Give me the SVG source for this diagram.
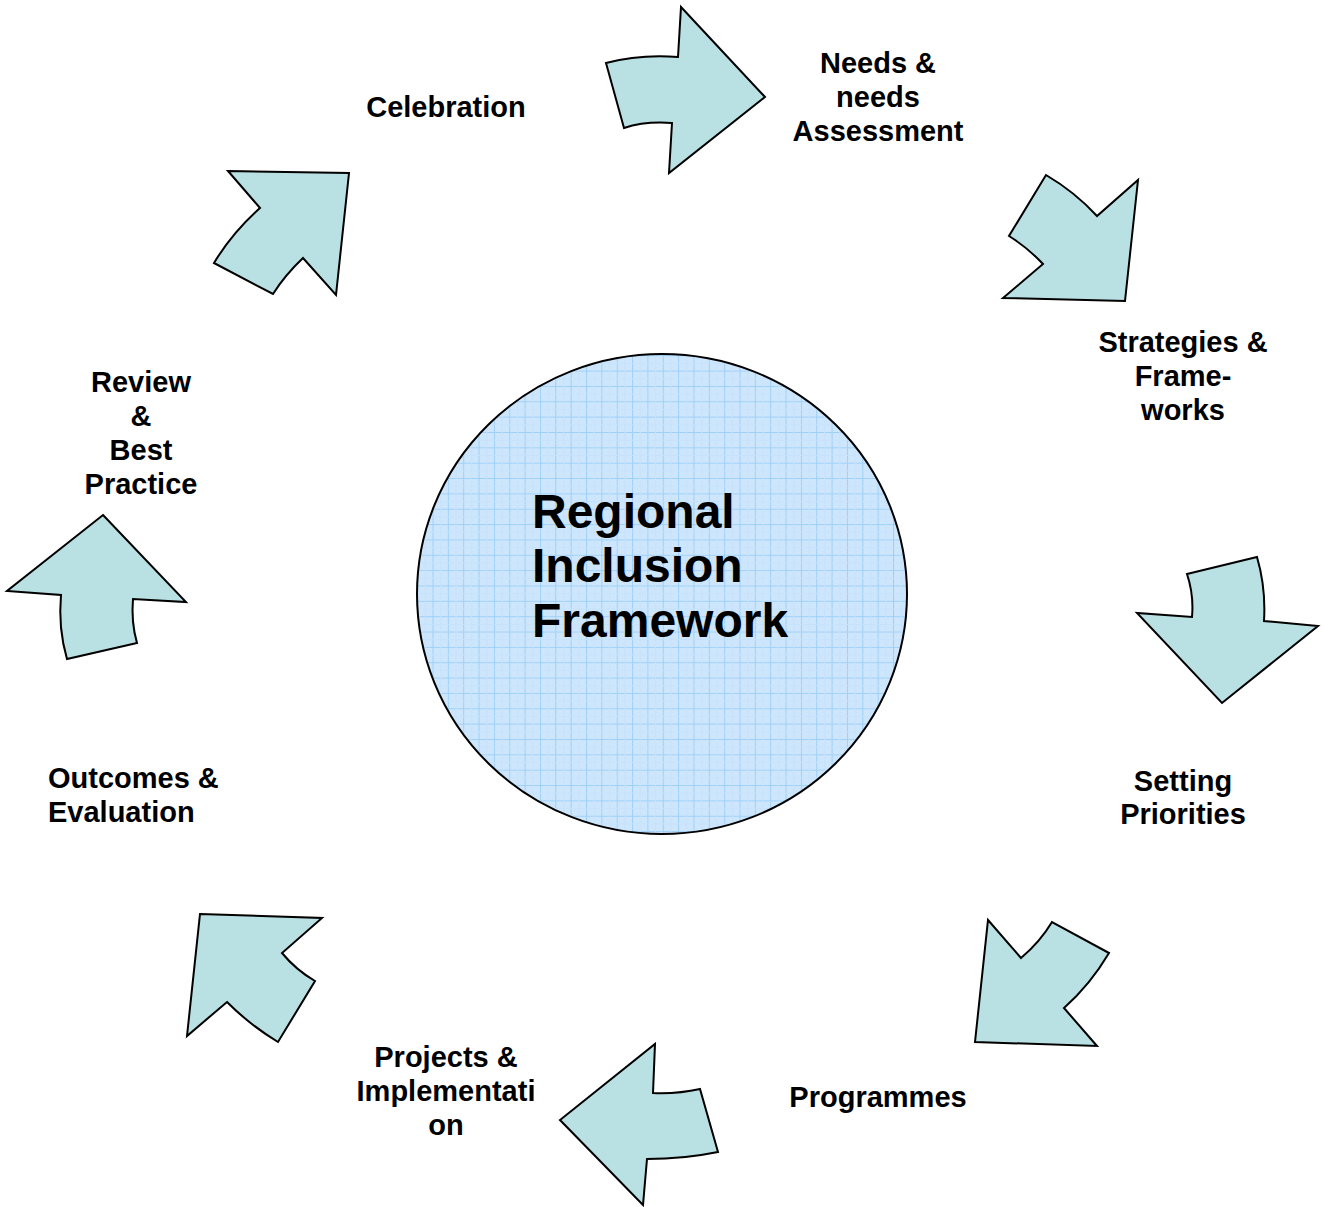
<svg xmlns="http://www.w3.org/2000/svg" width="1322" height="1207" viewBox="0 0 1322 1207">
<style>
.arrow{fill:#b9e0e3;stroke:#000;stroke-width:2;stroke-linejoin:miter}
.lbl{font-family:"Liberation Sans",Arial,sans-serif;font-weight:bold;font-size:29px;fill:#000}
.c{text-anchor:middle}
.title{font-family:"Liberation Sans",Arial,sans-serif;font-weight:bold;font-size:48px;fill:#000}
</style>
<defs>
<pattern id="grid" width="15.35" height="15.35" patternUnits="userSpaceOnUse" x="2.7" y="2.2">
<rect width="15.35" height="15.35" fill="#cde6fc"/>
<path d="M0,0.5 H15.35 M0.5,0 V15.35" stroke="#9fd0f8" stroke-width="1" fill="none"/>
<path d="M0,8.2 H15.35 M8.2,0 V15.35" stroke="#c6e2fc" stroke-width="1" fill="none"/>
</pattern>
</defs>
<rect width="1322" height="1207" fill="#fff"/>
<g id="center">
<ellipse cx="662" cy="594" rx="245" ry="240" fill="url(#grid)" stroke="#000" stroke-width="2"/>
<text class="title" x="532" y="528">Regional</text>
<text class="title" x="532" y="582">Inclusion</text>
<text class="title" x="532" y="637">Framework</text>
</g>
<g id="connectors">
<path class="arrow" d="M681,7 L765,97 L669,173 L672,123 Q645,121 624,128 L606,63 Q640,54 678,57 Z"/>
<path class="arrow" d="M1046,175 Q1075,192 1097,216 L1138,180 L1125,301 L1003,298 L1043,264 Q1028,248 1009,236 Z"/>
<path class="arrow" d="M1187,574 L1257,557 Q1266,588 1264,621 L1318,626 L1222,703 L1137,613 L1192,617 Q1194,595 1187,574 Z"/>
<path class="arrow" d="M988,920 L1021,958 Q1040,942 1052,922 L1109,953 Q1090,985 1064,1008 L1097,1046 L975,1042 Z"/>
<path class="arrow" d="M655,1044 L653,1093 Q678,1094 700,1089 L718,1152 Q684,1159 647,1159 L643,1205 L560,1120 Z"/>
<path class="arrow" d="M200,914 L322,918 L282,953 Q296,970 315,981 L278,1042 Q250,1025 227,1002 L187,1036 Z"/>
<path class="arrow" d="M103,515 L186,602 L133,599 Q131,622 137,643 L67,659 Q58,628 61,595 L7,591 Z"/>
<path class="arrow" d="M228,171 L349,173 L336,295 L303,258 Q285,275 273,294 L214,263 Q232,233 260,208 Z"/>
</g>
<g id="needs">
<text class="lbl c" x="878" y="73">Needs &amp;</text>
<text class="lbl c" x="878" y="107">needs</text>
<text class="lbl c" x="878" y="141">Assessment</text>
</g>
<g id="strategies">
<text class="lbl c" x="1183" y="352">Strategies &amp;</text>
<text class="lbl c" x="1183" y="386">Frame-</text>
<text class="lbl c" x="1183" y="420">works</text>
</g>
<g id="priorities">
<text class="lbl c" x="1183" y="791">Setting</text>
<text class="lbl c" x="1183" y="824">Priorities</text>
</g>
<g id="programmes">
<text class="lbl c" x="878" y="1107">Programmes</text>
</g>
<g id="projects">
<text class="lbl c" x="446" y="1067">Projects &amp;</text>
<text class="lbl c" x="446" y="1101">Implementati</text>
<text class="lbl c" x="446" y="1135">on</text>
</g>
<g id="outcomes">
<text class="lbl" x="48" y="788">Outcomes &amp;</text>
<text class="lbl" x="48" y="822">Evaluation</text>
</g>
<g id="review">
<text class="lbl c" x="141" y="392">Review</text>
<text class="lbl c" x="141" y="426">&amp;</text>
<text class="lbl c" x="141" y="460">Best</text>
<text class="lbl c" x="141" y="494">Practice</text>
</g>
<g id="celebration">
<text class="lbl c" x="446" y="117">Celebration</text>
</g>
</svg>
